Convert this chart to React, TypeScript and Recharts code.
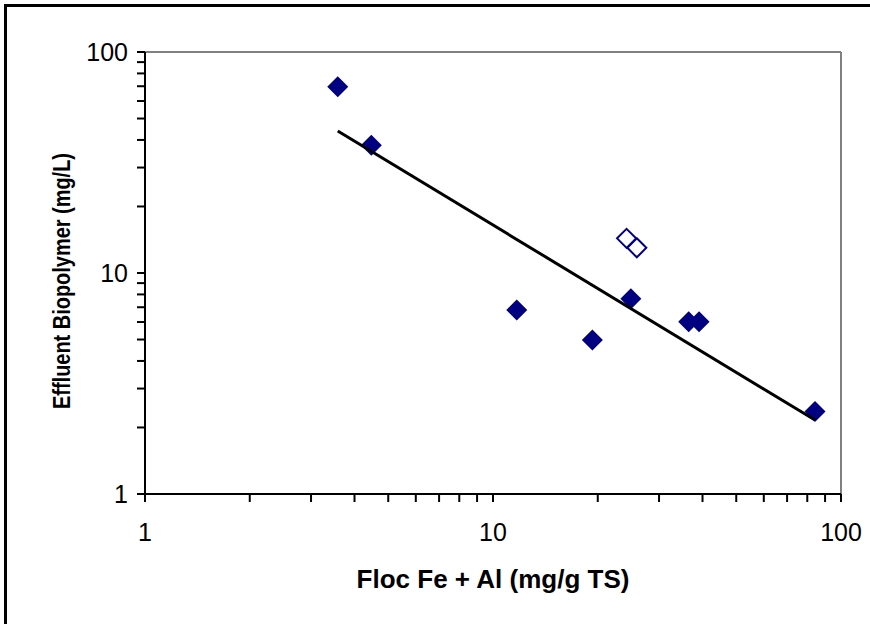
import React from 'react';
import { ScatterChart, Scatter, XAxis, YAxis, ReferenceLine } from 'recharts';

const flocFilled = [3.58, 4.47, 11.7, 19.3, 24.9, 36.5, 39.1, 84.2];
const bioFilled = [69.7, 37.8, 6.8, 4.98, 7.64, 6.02, 6.02, 2.36];
const flocOpen = [24.2, 25.9];
const bioOpen = [14.35, 13.0];
const trendFloc = [3.58, 84.2];
const trendBio = [43.9, 2.16];
const logTicks = [1, 2, 3, 4, 5, 6, 7, 8, 9, 10, 20, 30, 40, 50, 60, 70, 80, 90, 100];
const labeledTicks = [1, 10, 100];

const filledData = flocFilled.map((x, i) => ({ x, y: bioFilled[i] }));
const openData = flocOpen.map((x, i) => ({ x, y: bioOpen[i] }));
const trendData = trendFloc.map((x, i) => ({ x, y: trendBio[i] }));

const NAVY = '#000080';
const FONT = '"Liberation Sans", Arial, sans-serif';

const FilledDiamond = (props: any) => {
  const { cx, cy } = props;
  const r = 10.5;
  return <polygon points={`${cx},${cy - r} ${cx + r},${cy} ${cx},${cy + r} ${cx - r},${cy}`} fill={NAVY} />;
};

const OpenDiamond = (props: any) => {
  const { cx, cy } = props;
  const r = 9.5;
  return (
    <polygon
      points={`${cx},${cy - r} ${cx + r},${cy} ${cx},${cy + r} ${cx - r},${cy}`}
      fill="#fff"
      stroke={NAVY}
      strokeWidth={2}
    />
  );
};

const NoShape = () => null;

const YLabel = (props: any) => {
  const vb = props.viewBox || {};
  const x = vb.x + 62;
  const y = vb.y + vb.height / 2 + 8;
  return (
    <text
      x={x}
      y={y}
      transform={`rotate(-90, ${x}, ${y})`}
      textAnchor="middle"
      dominantBaseline="central"
      fontFamily={FONT}
      fontWeight="bold"
      fontSize={23}
      textLength={256}
      lengthAdjust="spacingAndGlyphs"
      fill="#000"
    >
      Effluent Biopolymer (mg/L)
    </text>
  );
};

const fmt = (v: number) => (labeledTicks.includes(v) ? String(v) : '');

export default function App() {
  return (
    <div style={{ position: 'absolute', left: 0, top: 0, width: 870, height: 624, overflow: 'hidden', background: '#fff' }}>
      <div
        style={{
          position: 'absolute',
          left: 4,
          top: 4,
          width: 900,
          height: 700,
          border: '3px solid #000',
          boxSizing: 'border-box',
        }}
      />
      <div style={{ position: 'absolute', left: 0, top: 0 }}>
        <ScatterChart width={870} height={624} margin={{ top: 52, right: 29, bottom: 0, left: 0 }}>
          <XAxis
            type="number"
            dataKey="x"
            scale="log"
            domain={[1, 100]}
            ticks={logTicks}
            interval={0}
            allowDataOverflow
            height={130}
            tickSize={8}
            tickMargin={21}
            tickFormatter={fmt}
            axisLine={{ stroke: '#000', strokeWidth: 2 }}
            tickLine={{ stroke: '#000', strokeWidth: 2 }}
            tick={{ fill: '#000', fontSize: 25, fontFamily: FONT }}
            label={{
              value: 'Floc Fe + Al (mg/g TS)',
              position: 'insideBottom',
              offset: 36,
              fill: '#000',
              fontSize: 26,
              fontWeight: 'bold',
              fontFamily: FONT,
            }}
          />
          <YAxis
            type="number"
            dataKey="y"
            scale="log"
            domain={[1, 100]}
            ticks={logTicks}
            interval={0}
            allowDataOverflow
            width={145}
            tickSize={8}
            tickMargin={9}
            tickFormatter={fmt}
            axisLine={{ stroke: '#000', strokeWidth: 2 }}
            tickLine={{ stroke: '#000', strokeWidth: 2 }}
            tick={{ fill: '#000', fontSize: 25, fontFamily: FONT }}
            label={<YLabel />}
          />
          <ReferenceLine y={100} stroke="#808080" strokeWidth={2} />
          <ReferenceLine x={100} stroke="#808080" strokeWidth={2} />
          <Scatter data={filledData} shape={FilledDiamond} isAnimationActive={false} />
          <Scatter data={openData} shape={OpenDiamond} isAnimationActive={false} />
          <Scatter
            data={trendData}
            shape={NoShape}
            line={{ stroke: '#000', strokeWidth: 3 }}
            lineType="joint"
            isAnimationActive={false}
          />
        </ScatterChart>
      </div>
    </div>
  );
}
